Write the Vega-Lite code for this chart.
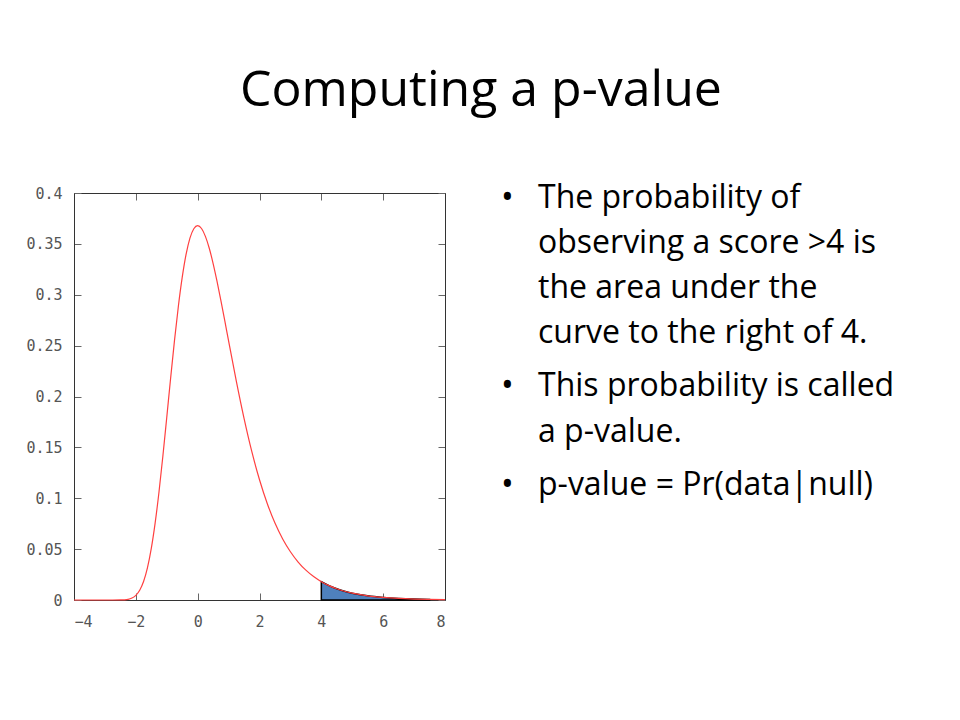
{
  "$schema": "https://vega.github.io/schema/vega-lite/v6.json",
  "background": "white",
  "padding": {"left": 25, "top": 65, "right": 0, "bottom": 0},
  "title": {
    "text": "Computing a p-value",
    "font": "Open Sans",
    "fontSize": 50,
    "fontWeight": "normal",
    "color": "black",
    "anchor": "middle",
    "offset": 66
  },
  "config": {
    "view": {"stroke": null},
    "axis": {
      "grid": false,
      "labelFont": "DejaVu Sans Mono",
      "labelFontSize": 15,
      "labelColor": "#555555",
      "tickColor": "#666666",
      "tickSize": -7,
      "domainColor": "#333333",
      "domainWidth": 1,
      "title": null
    }
  },
  "datasets": {
    "curve": [
      {"x": -4, "y": 0}, {"x": -3.5, "y": 0}, {"x": -3, "y": 0}, {"x": -2.75, "y": 0},
      {"x": -2.5, "y": 0.0001}, {"x": -2.25, "y": 0.0007}, {"x": -2.125, "y": 0.0019},
      {"x": -2, "y": 0.0046}, {"x": -1.875, "y": 0.0096}, {"x": -1.75, "y": 0.0182},
      {"x": -1.625, "y": 0.0316}, {"x": -1.5, "y": 0.0507}, {"x": -1.375, "y": 0.0758},
      {"x": -1.25, "y": 0.1064}, {"x": -1.125, "y": 0.1415}, {"x": -1, "y": 0.1794},
      {"x": -0.875, "y": 0.2179}, {"x": -0.75, "y": 0.2549}, {"x": -0.625, "y": 0.2885},
      {"x": -0.5, "y": 0.317}, {"x": -0.375, "y": 0.3396}, {"x": -0.25, "y": 0.3556},
      {"x": -0.125, "y": 0.3649}, {"x": 0, "y": 0.3679}, {"x": 0.125, "y": 0.3651},
      {"x": 0.25, "y": 0.3574}, {"x": 0.375, "y": 0.3457}, {"x": 0.5, "y": 0.3307},
      {"x": 0.625, "y": 0.3134}, {"x": 0.75, "y": 0.2945}, {"x": 0.875, "y": 0.2748},
      {"x": 1, "y": 0.2546}, {"x": 1.25, "y": 0.2151}, {"x": 1.5, "y": 0.1785},
      {"x": 1.75, "y": 0.146}, {"x": 2, "y": 0.1182}, {"x": 2.25, "y": 0.0949},
      {"x": 2.5, "y": 0.0756}, {"x": 2.75, "y": 0.06}, {"x": 3, "y": 0.0474},
      {"x": 3.25, "y": 0.0373}, {"x": 3.5, "y": 0.0293}, {"x": 3.75, "y": 0.023},
      {"x": 4, "y": 0.018}, {"x": 4.25, "y": 0.0141}, {"x": 4.5, "y": 0.011},
      {"x": 4.75, "y": 0.0086}, {"x": 5, "y": 0.0067}, {"x": 5.5, "y": 0.0041},
      {"x": 6, "y": 0.0025}, {"x": 6.5, "y": 0.0015}, {"x": 7, "y": 0.0009},
      {"x": 7.5, "y": 0.00055}, {"x": 8, "y": 0.0003}
    ],
    "tail": [
      {"x": 4, "y": 0.018}, {"x": 4.25, "y": 0.0141}, {"x": 4.5, "y": 0.011},
      {"x": 4.75, "y": 0.0086}, {"x": 5, "y": 0.0067}, {"x": 5.5, "y": 0.0041},
      {"x": 6, "y": 0.0025}, {"x": 6.5, "y": 0.0015}, {"x": 7, "y": 0.0009},
      {"x": 7.5, "y": 0.00055}
    ],
    "lines": [
      {"pos": 0.333, "bullet": "•", "text": "The probability of"},
      {"pos": 1.333, "bullet": "", "text": "observing a score >4 is"},
      {"pos": 2.333, "bullet": "", "text": "the area under the"},
      {"pos": 3.333, "bullet": "", "text": "curve to the right of 4."},
      {"pos": 4.51, "bullet": "•", "text": "This probability is called"},
      {"pos": 5.53, "bullet": "", "text": "a p-value."},
      {"pos": 6.7, "bullet": "•", "text": "p-value = Pr(data|null)"}
    ]
  },
  "hconcat": [
    {
      "width": 371,
      "height": 407,
      "layer": [
        {
          "data": {"name": "tail"},
          "mark": {"type": "area", "interpolate": "monotone", "color": "#4f81bd", "stroke": "black", "strokeWidth": 1.5, "opacity": 1},
          "encoding": {
            "x": {
              "field": "x", "type": "quantitative",
              "scale": {"domain": [-4, 8], "nice": false, "zero": false},
              "axis": {"orient": "bottom", "values": [-4, -2, 0, 2, 4, 6, 8], "format": "~g", "labelPadding": 21}
            },
            "y": {
              "field": "y", "type": "quantitative",
              "scale": {"domain": [0, 0.4], "nice": false},
              "axis": {"orient": "left", "values": [0, 0.05, 0.1, 0.15, 0.2, 0.25, 0.3, 0.35, 0.4], "format": "~g", "labelPadding": 19}
            }
          }
        },
        {
          "data": {"name": "curve"},
          "mark": {"type": "line", "interpolate": "monotone", "color": "#ff4040", "strokeWidth": 1.2},
          "encoding": {
            "x": {
              "field": "x", "type": "quantitative",
              "axis": {"orient": "top", "values": [-4, -2, 0, 2, 4, 6, 8], "labels": false}
            },
            "y": {
              "field": "y", "type": "quantitative",
              "axis": {"orient": "right", "values": [0, 0.05, 0.1, 0.15, 0.2, 0.25, 0.3, 0.35, 0.4], "labels": false}
            }
          }
        }
      ],
      "resolve": {"axis": {"x": "independent", "y": "independent"}}
    },
    {
      "width": 430,
      "height": 407,
      "data": {"name": "lines"},
      "encoding": {
        "x": {
          "datum": 0, "type": "quantitative",
          "scale": {"domain": [0, 1], "nice": false, "zero": false},
          "axis": null
        },
        "y": {
          "field": "pos", "type": "quantitative",
          "scale": {"domain": [0, 9.044], "reverse": true, "nice": false, "zero": false},
          "axis": null
        }
      },
      "layer": [
        {
          "mark": {"type": "text", "font": "Open Sans", "fontSize": 34, "align": "left", "baseline": "alphabetic", "color": "black", "dx": -5, "dy": 1},
          "encoding": {"text": {"field": "bullet"}}
        },
        {
          "mark": {"type": "text", "font": "Open Sans", "fontSize": 32, "align": "left", "baseline": "alphabetic", "color": "black", "dx": 32},
          "encoding": {"text": {"field": "text"}}
        }
      ]
    }
  ],
  "spacing": 53
}
